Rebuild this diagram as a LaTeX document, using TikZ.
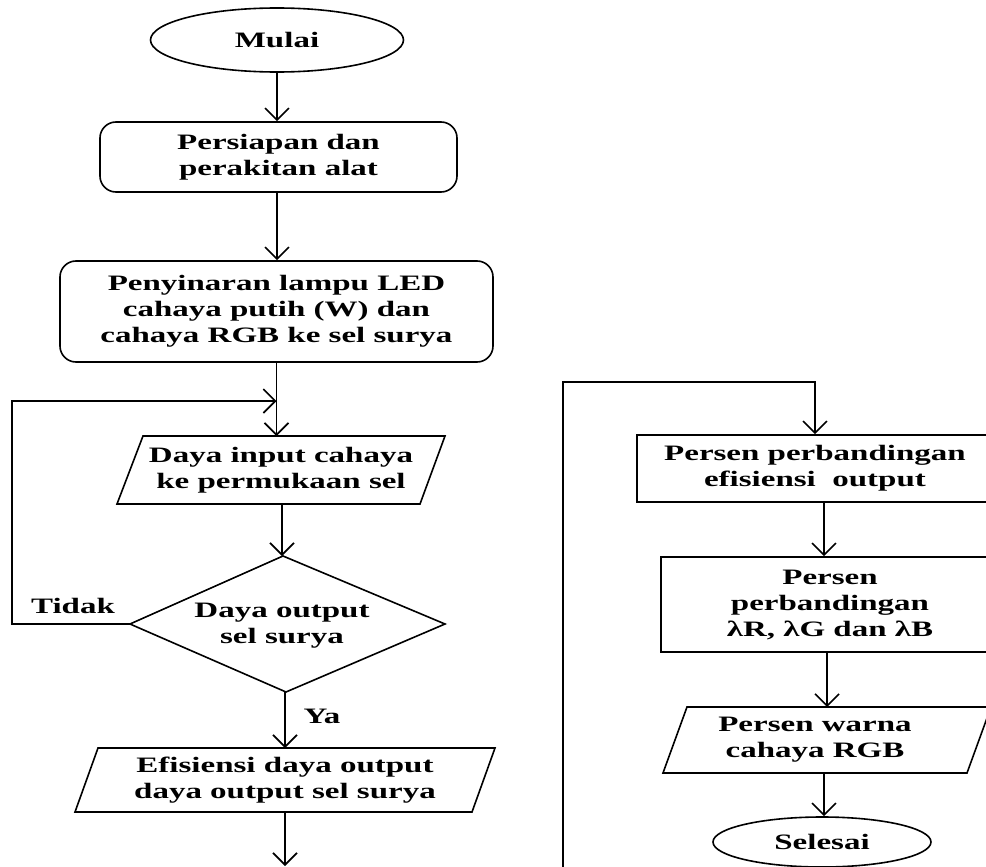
\documentclass[tikz,border=0pt]{standalone}
\usepackage{fontspec}
\setmainfont{Liberation Serif}[FakeStretch=1.5]
\usetikzlibrary{arrows.meta,shapes.geometric}
\begin{document}
\begin{tikzpicture}[x=1pt,y=-1pt,
  line/.style={line width=1.6pt, draw=black},
  arr/.style={line, -{Straight Barb[length=12pt,width=24pt]}},
  txt/.style={font=\bfseries\fontsize{22}{26}\selectfont, align=center, inner sep=0pt},
  term/.style={txt, ellipse, line},
  rbox/.style={txt, rectangle, rounded corners=16pt, line},
  sbox/.style={txt, rectangle, line}]
\useasboundingbox (0,0) rectangle (986,867);
\clip (0,0) rectangle (986,867);
\fill[white] (0,0) rectangle (986,867);

% left column
\node[term, minimum width=253pt, minimum height=64pt] (start) at (277,40) {Mulai};
\node[rbox, minimum width=357pt, minimum height=70pt] (prep) at (278.5,157) {Persiapan dan\\perakitan alat};
\node[rbox, minimum width=433pt, minimum height=101pt] (light) at (276.5,311.5) {Penyinaran lampu LED\\cahaya putih (W) dan\\cahaya RGB ke sel surya};

\coordinate (inpN) at (281,436);
\coordinate (inpS) at (281,504);
\draw[line] (143,436) -- (445,436) -- (420,504) -- (117,504) -- cycle;
\node[txt] (inp) at (281,470) {Daya input cahaya\\ke permukaan sel};

\coordinate (decN) at (283,556);
\coordinate (decE) at (445,624);
\coordinate (decS) at (286,692);
\coordinate (decW) at (130,624);
\draw[line] (decN) -- (decE) -- (decS) -- (decW) -- cycle;
\node[txt] (dec) at (282,626) {Daya output\\sel surya};

\coordinate (effN) at (285,748);
\coordinate (effS) at (285,812);
\draw[line] (98,748) -- (495,748) -- (472,812) -- (75,812) -- cycle;
\node[txt] (eff) at (285,780) {Efisiensi daya output\\daya output sel surya};
\coordinate (out1) at (285,866);

\node[txt] (tidak) at (73,606) {Tidak};
\node[txt] (ya) at (322,716) {Ya};

\draw[arr] (start.south) -- (start.south |- prep.north);
\draw[arr] (prep.south -| start.south) -- (start.south |- light.north);
\draw[arr] (light.south) -- (light.south |- inpN);
\draw[arr] (decW) -- (12,624) |- (light.south |- 0,401);
\draw[arr] (inpS -| 282,0) -- (decN -| 282,0);
\draw[arr] (decS -| 285,0) -- (effN);
\draw[arr] (effS) -- (out1);

% right column
\node[sbox, minimum width=356pt, minimum height=67pt] (pct) at (815,468.5) {Persen perbandingan\\efisiensi\ \ output};
\node[sbox, minimum width=338pt, minimum height=95pt] (lam) at (830,604.5) {Persen\\perbandingan\\λR, λG dan λB};

\coordinate (colN) at (827,707);
\coordinate (colS) at (824,773);
\draw[line] (687,707) -- (991,707) -- (967,773) -- (663,773) -- cycle;
\node[txt] (col) at (815,740) {Persen warna\\cahaya RGB};

\node[term, minimum width=218pt, minimum height=50pt] (end) at (822,842) {Selesai};

\coordinate (in1) at (563,875);
\draw[arr] (in1) -- (563,382) -| (pct.north);
\draw[arr] (pct.south -| 824,0) -- (lam.north -| 824,0);
\draw[arr] (lam.south -| colN) -- (colN);
\draw[arr] (colS) -- (colS |- end.north);
\end{tikzpicture}
\end{document}
